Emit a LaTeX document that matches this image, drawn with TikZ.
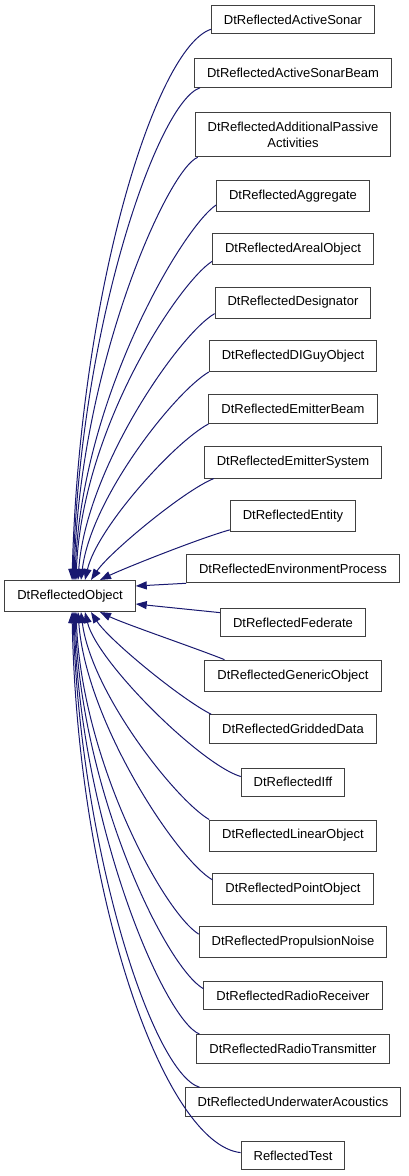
\documentclass[tikz,border=0pt]{standalone}
\usepackage{fontspec}
\setmainfont{Liberation Sans}
\usepackage{xcolor}
\usetikzlibrary{arrows.meta}

\definecolor{midnight}{HTML}{191970}
\definecolor{boxline}{HTML}{404040}

\begin{document}
\begin{tikzpicture}[x=1pt,y=-1pt]
\useasboundingbox (0,0) rectangle (408,1176);
\begin{scope}[every node/.style={rectangle,draw=boxline,line width=1pt,fill=white,
        minimum height=28.5pt,inner xsep=12.5pt,inner ysep=9.5pt,align=center,
        font=\fontsize{13}{16}\selectfont}]
    \node (obj) at (70,596) {DtReflectedObject};
    \node (sonar) at (293,19.5) {DtReflectedActiveSonar};
    \node (sonarbeam) at (293,73) {DtReflectedActiveSonarBeam};
    \node (passive) at (293,134.5) {DtReflectedAdditionalPassive\\Activities};
    \node (aggregate) at (293,196) {DtReflectedAggregate};
    \node (areal) at (293,249.3) {DtReflectedArealObject};
    \node (designator) at (293,302.6) {DtReflectedDesignator};
    \node (diguy) at (293,355.9) {DtReflectedDIGuyObject};
    \node (emitbeam) at (293,409.2) {DtReflectedEmitterBeam};
    \node (emitsys) at (293,462.5) {DtReflectedEmitterSystem};
    \node (entity) at (293,515.8) {DtReflectedEntity};
    \node (envproc) at (293,568.5) {DtReflectedEnvironmentProcess};
    \node (federate) at (293,622.4) {DtReflectedFederate};
    \node (generic) at (293,675.7) {DtReflectedGenericObject};
    \node (gridded) at (293,729) {DtReflectedGriddedData};
    \node (iff) at (293,782.3) {DtReflectedIff};
    \node (linear) at (293,835.6) {DtReflectedLinearObject};
    \node (point) at (293,888.9) {DtReflectedPointObject};
    \node (propnoise) at (293,942.2) {DtReflectedPropulsionNoise};
    \node (radiorx) at (293,995.5) {DtReflectedRadioReceiver};
    \node (radiotx) at (293,1048.8) {DtReflectedRadioTransmitter};
    \node (underwater) at (293,1102.1) {DtReflectedUnderwaterAcoustics};
    \node (test) at (293,1155.6) {ReflectedTest};
\end{scope}
\begin{scope}[->,>={Triangle[length=11pt,width=8pt]},
              color=midnight,line width=1pt]
    % above the base class
    \draw ([yshift=5pt]sonar.south west) .. controls +(-55,18) and +(8,-290) .. ([xshift=2pt]obj.north);
    \draw ([xshift=6pt]sonarbeam.south west) .. controls +(-42,14) and +(7,-255) .. ([xshift=3pt]obj.north);
    \draw ([xshift=3pt]passive.south west) .. controls +(-30,12) and +(6,-215) .. ([xshift=4pt]obj.north);
    \draw ([yshift=7pt]aggregate.south west) .. controls +(-33,22) and +(6,-182) .. ([xshift=5pt]obj.north);
    \draw ([yshift=4pt]areal.south west) .. controls +(-33,21) and +(6,-152) .. ([xshift=6pt]obj.north);
    \draw ([yshift=5pt]designator.south west) .. controls +(-35,20) and +(8,-112) .. ([xshift=8pt]obj.north);
    \draw (diguy.south west) .. controls +(-34,20) and +(10,-82) .. ([xshift=11pt]obj.north);
    \draw (emitbeam.south west) .. controls +(-34,18) and +(12,-52) .. ([xshift=15pt]obj.north);
    \draw ([xshift=10pt]emitsys.south west) .. controls +(-30,12) and +(18,-27) .. ([xshift=21pt]obj.north);
    \draw ([yshift=2pt]entity.south west) .. controls +(-29,8) and +(25,-12) .. ([xshift=30pt]obj.north);
    % beside it
    \draw (envproc.south west) -- ([yshift=10pt]obj.east);
    \draw ([yshift=-5pt]federate.north west) -- ([yshift=-8pt]obj.east);
    % below it
    \draw ([xshift=20pt]generic.north west) .. controls +(-30,-12) and +(25,12) .. ([xshift=30pt]obj.south);
    \draw ([xshift=2pt]gridded.north west) .. controls +(-30,-15) and +(18,28) .. ([xshift=21pt]obj.south);
    \draw ([yshift=-9pt]iff.north west) .. controls +(-40,-12) and +(12,50) .. ([xshift=15pt]obj.south);
    \draw (linear.north west) .. controls +(-34,-20) and +(10,80) .. ([xshift=11pt]obj.south);
    \draw ([yshift=-7pt]point.north west) .. controls +(-35,-20) and +(8,110) .. ([xshift=8pt]obj.south);
    \draw ([yshift=-8pt]propnoise.north west) .. controls +(-35,-22) and +(6,150) .. ([xshift=6pt]obj.south);
    \draw ([yshift=-8pt]radiorx.north west) .. controls +(-38,-22) and +(6,180) .. ([xshift=5pt]obj.south);
    \draw ([xshift=3pt]radiotx.north west) .. controls +(-35,-14) and +(6,212) .. ([xshift=4pt]obj.south);
    \draw ([xshift=15pt]underwater.north west) .. controls +(-48,-15) and +(7,235) .. ([xshift=3pt]obj.south);
    \draw ([yshift=3pt]test.west) .. controls +(-75,-8) and +(6,290) .. ([xshift=2pt]obj.south);
\end{scope}
\end{tikzpicture}
\end{document}
